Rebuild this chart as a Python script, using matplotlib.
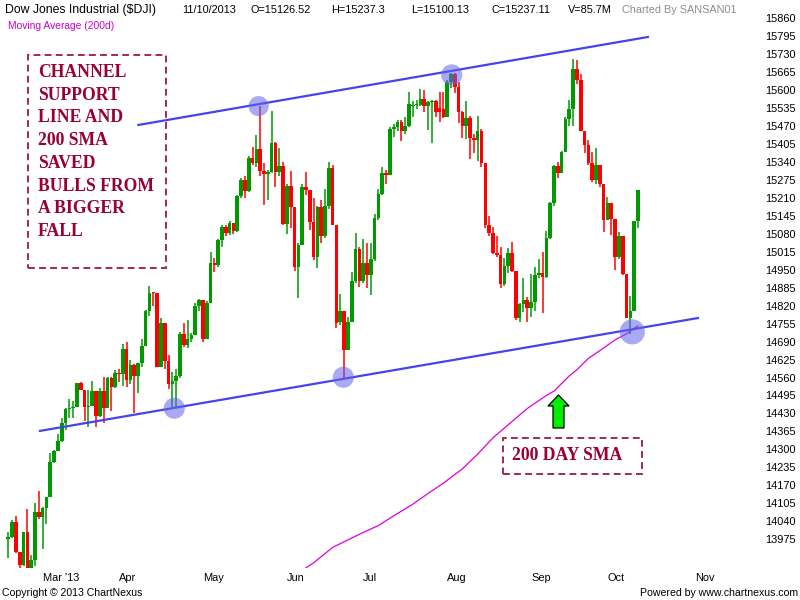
import matplotlib
matplotlib.use("Agg")
import matplotlib.pyplot as plt
from matplotlib.patches import Rectangle, Polygon
import numpy as np
import pandas as pd

# daily candles, Dow Jones Industrial, 15 Feb 2013 - 11 Oct 2013
holidays = ["2013-02-18", "2013-03-29", "2013-05-27", "2013-07-04", "2013-09-02"]
opens = [13975, 13982, 14036, 13928, 13881, 14001, 13784, 13900, 14075, 14054,
         14090, 14128, 14254, 14296, 14329, 14397, 14447, 14450, 14455, 14539,
         14514, 14452, 14456, 14512, 14421, 14512, 14448, 14560, 14526, 14578,
         14572, 14662, 14550, 14606, 14565, 14613, 14673, 14802, 14868, 14865,
         14599, 14756, 14618, 14537, 14547, 14567, 14719, 14676, 14700, 14712,
         14818, 14840, 14700, 14831, 14973, 14968, 15056, 15105, 15083, 15118,
         15091, 15215, 15275, 15233, 15354, 15335, 15387, 15307, 15294, 15303,
         15409, 15302, 15324, 15116, 15254, 15177, 14960, 15040, 15248, 15239,
         15122, 14995, 15176, 15070, 15180, 15318, 15112, 14762, 14800, 14660,
         14760, 14910, 15024, 14910, 14975, 14932, 14988, 15136, 15225, 15300,
         15291, 15460, 15464, 15484, 15452, 15470, 15540, 15544, 15545, 15567,
         15543, 15556, 15559, 15535, 15530, 15500, 15628, 15658, 15612, 15519,
         15471, 15498, 15425, 15419, 15451, 15337, 15112, 15081, 15010, 15002,
         14897, 14963, 15010, 14946, 14776, 14824, 14840, 14810, 14834, 14931,
         14938, 14922, 15063, 15191, 15326, 15300, 15376, 15494, 15529, 15677,
         15636, 15452, 15401, 15334, 15273, 15328, 15259, 15130, 15191, 15133,
         14996, 15072, 14936, 14776, 14802, 15126.52]
highs = [14003, 14045, 14059, 13929, 14001, 14083, 13918, 14105, 14150, 14091,
         14128, 14286, 14298, 14356, 14412, 14449, 14481, 14475, 14539, 14545,
         14514, 14515, 14549, 14512, 14521, 14563, 14561, 14561, 14587, 14590,
         14681, 14690, 14625, 14610, 14613, 14700, 14805, 14891, 14869, 14865,
         14775, 14756, 14640, 14580, 14590, 14725, 14756, 14768, 14720, 14830,
         14845, 14840, 14835, 15012, 14991, 15060, 15110, 15110, 15125, 15120,
         15220, 15280, 15290, 15360, 15392, 15437, 15542, 15334, 15310, 15523,
         15410, 15390, 15340, 15260, 15308, 15177, 15045, 15260, 15304, 15239,
         15210, 15180, 15200, 15240, 15340, 15330, 15112, 14862, 14800, 14780,
         14940, 15084, 15030, 15060, 15045, 15045, 15150, 15240, 15320, 15310,
         15465, 15475, 15490, 15490, 15500, 15593, 15560, 15565, 15604, 15600,
         15560, 15565, 15565, 15593, 15593, 15635, 15660, 15660, 15630, 15525,
         15560, 15505, 15440, 15505, 15460, 15337, 15144, 15103, 15070, 15030,
         14991, 15029, 15051, 14946, 14830, 14918, 14850, 14933, 14960, 14988,
         15015, 15090, 15195, 15330, 15340, 15380, 15500, 15563, 15711, 15709,
         15657, 15452, 15420, 15376, 15388, 15330, 15259, 15214, 15191, 15133,
         15087, 15072, 14936, 14856, 15126, 15237.3]
lows = [13906, 13979, 13924, 13860, 13880, 13784, 13784, 13879, 14048, 13939,
        14029, 14128, 14252, 14296, 14328, 14370, 14412, 14412, 14455, 14514,
        14404, 14382, 14456, 14382, 14418, 14394, 14448, 14440, 14521, 14545,
        14530, 14525, 14535, 14433, 14503, 14598, 14673, 14784, 14820, 14599,
        14599, 14590, 14520, 14455, 14455, 14560, 14670, 14665, 14690, 14712,
        14800, 14687, 14700, 14831, 14943, 14960, 15030, 15070, 15075, 15080,
        15085, 15210, 15210, 15230, 15330, 15320, 15290, 15184, 15202, 15300,
        15250, 15290, 15110, 15080, 15100, 14945, 14846, 15040, 15220, 15095,
        14985, 14955, 15045, 15065, 15170, 15110, 14740, 14750, 14557, 14660,
        14760, 14900, 14886, 14900, 14883, 14858, 14980, 15130, 15220, 15260,
        15291, 15430, 15450, 15416, 15440, 15465, 15500, 15530, 15540, 15520,
        15455, 15407, 15500, 15482, 15497, 15500, 15605, 15587, 15480, 15425,
        15422, 15349, 15370, 15343, 15322, 15099, 15070, 15005, 14995, 14882,
        14890, 14937, 14940, 14768, 14762, 14798, 14762, 14777, 14800, 14920,
        14792, 14920, 15060, 15180, 15282, 15300, 15376, 15470, 15470, 15620,
        15450, 15370, 15330, 15265, 15260, 15250, 15087, 15130, 15075, 14949,
        14990, 14930, 14775, 14719, 14802, 15100.13]
closes = [13982, 14036, 13928, 13881, 14001, 13784, 13900, 14075, 14054, 14090,
          14128, 14254, 14296, 14329, 14397, 14447, 14450, 14455, 14539, 14514,
          14452, 14456, 14512, 14421, 14512, 14448, 14560, 14526, 14578, 14572,
          14662, 14550, 14606, 14565, 14613, 14673, 14802, 14865, 14865, 14599,
          14756, 14618, 14537, 14547, 14567, 14719, 14676, 14700, 14712, 14818,
          14840, 14700, 14831, 14973, 14968, 15056, 15105, 15083, 15118, 15091,
          15215, 15275, 15233, 15354, 15335, 15387, 15307, 15294, 15303, 15409,
          15302, 15324, 15116, 15254, 15177, 14960, 15040, 15248, 15239, 15122,
          14995, 15176, 15070, 15180, 15318, 15112, 14758, 14800, 14660, 14760,
          14910, 15024, 14910, 14975, 14932, 14988, 15136, 15225, 15300, 15291,
          15460, 15464, 15484, 15452, 15470, 15549, 15544, 15545, 15567, 15543,
          15556, 15559, 15521, 15520, 15500, 15628, 15658, 15612, 15519, 15471,
          15498, 15425, 15419, 15451, 15337, 15112, 15081, 15010, 15002, 14897,
          14963, 15010, 14946, 14776, 14824, 14840, 14810, 14834, 14931, 14938,
          14922, 15063, 15191, 15326, 15300, 15376, 15494, 15529, 15677, 15636,
          15452, 15401, 15334, 15273, 15328, 15259, 15130, 15191, 15133, 14996,
          15072, 14936, 14776, 14802, 15126, 15237.11]

# 200 day moving average, read at some candle numbers
sma_pos = [76, 78, 80, 85, 89, 93, 97, 101, 106, 110, 114, 119, 123, 127, 132,
           136, 141, 143, 147, 149, 152, 155, 159, 162, 165]
sma_val = [13855, 13872, 13890, 13946, 13973, 14000, 14025, 14060, 14102, 14141,
           14178, 14230, 14283, 14342, 14401, 14448, 14495, 14511, 14566, 14588,
           14629, 14657, 14696, 14718, 14747]

# channel lines (candle number, price)
upper_x = [34.1, 167.6]
upper_y = [15473, 15791]
lower_x = [8.3, 180.7]
lower_y = [14367, 14775]

# touch points circled on the chart
touch_x = [43.5, 65.6, 87.8, 116.2, 163.5]
touch_y = [14449, 15541, 14561, 15654, 14725]
touch_size = [230, 210, 230, 230, 330]

note_lines = ["CHANNEL", "SUPPORT", "LINE AND", "200 SMA", "SAVED",
              "BULLS FROM", "A BIGGER", "FALL"]

days = pd.bdate_range("2013-02-15", "2013-11-29")
days = days[~days.isin(pd.to_datetime(holidays))]
n = len(closes)
x = np.arange(n)

W, H = 800, 600
fig = plt.figure(figsize=(8, 6), dpi=100)
plt.rcParams['font.family'] = ['Liberation Sans', 'DejaVu Sans']
ax = fig.add_axes([0, 32 / H, 760 / W, 568 / H])
ax.set_xlim(-2.175, 196.98)
ax.set_ylim(13871.4, 15924.7)
for s in ax.spines.values():
    s.set_visible(False)

o = np.array(opens); c = np.array(closes)
hi = np.array(highs); lo = np.array(lows)
up = c >= o
cols = np.where(up, '#009900', '#ff0000')
ax.vlines(x, lo, hi, colors=cols, linewidth=1.1, zorder=2)
body = np.maximum(np.abs(c - o), 4)
ax.bar(x, body, bottom=np.minimum(o, c), width=0.95, color=cols, linewidth=0, zorder=3)

ax.plot(sma_pos, sma_val, color='#dd00dd', lw=0.9, zorder=4)
ax.plot(upper_x, upper_y, color='#4444ee', lw=1.6, zorder=4)
ax.plot(lower_x, lower_y, color='#4444ee', lw=1.6, zorder=4)
ax.scatter(touch_x, touch_y, s=touch_size, color='#6464eb', alpha=0.55, linewidths=0, zorder=5)

# axes labels
yt = np.arange(13975, 15861, 65)
ax.yaxis.tick_right()
ax.set_yticks(yt)
ax.set_yticklabels([str(v) for v in yt], fontsize=7.9, ha='left')
months = pd.Series(days).groupby([days.year, days.month]).first()
mpos = [list(days).index(d) for d in months if d.month >= 3]
mlab = [("Mar '13" if d.month == 3 else d.strftime('%b')) for d in months if d.month >= 3]
ax.set_xticks(mpos)
ax.set_xticklabels(mlab, fontsize=7.9, ha='left')
ax.tick_params(axis='both', length=0, pad=3.5)
ax.tick_params(axis='y', pad=4)

def fx(px):
    return px / W

def fy(py):
    return 1 - py / H

# header
fig.text(fx(5), fy(10), "Dow Jones Industrial (\\$DJI)", fontsize=8.8, va='center')
hdr = [(182, "11/10/2013"), (251, "O=15126.52"), (331, "H=15237.3"),
       (411, "L=15100.13"), (491, "C=15237.11"), (568, "V=85.7M")]
for px, t in hdr:
    fig.text(fx(px), fy(10), t, fontsize=7.8, va='center')
fig.text(fx(622), fy(10), "Charted By SANSAN01", fontsize=7.8, va='center', color='#8c8c8c')
fig.text(fx(8), fy(26), "Moving Average (200d)", fontsize=7.4, va='center', color='#cc00cc')

# footer
fig.text(fx(2), fy(593), "Copyright \u00a9 2013 ChartNexus", fontsize=7.6, va='center')
fig.text(fx(798), fy(593), "Powered by www.chartnexus.com", fontsize=7.6, va='center', ha='right')

# notes
note_col = '#990033'
box_col = '#a0285a'
fig.patches.append(Rectangle((fx(27.5), fy(268)), (165.5 - 27.5) / W, (268 - 55) / H,
                             transform=fig.transFigure, fill=False, edgecolor=box_col,
                             lw=1.4, linestyle=(0, (3.5, 2.2))))
for i, t in enumerate(note_lines):
    fig.text(fx(38), fy(72.5 + i * 22.7), t, fontsize=12.7, fontweight='bold',
             family='Liberation Serif', color=note_col, va='center')

fig.patches.append(Rectangle((fx(503), fy(474)), (642 - 503) / W, (474 - 438) / H,
                             transform=fig.transFigure, fill=False, edgecolor=box_col,
                             lw=1.4, linestyle=(0, (3.5, 2.2))))
fig.text(fx(512), fy(455), "200 DAY SMA", fontsize=12.7, fontweight='bold',
         family='Liberation Serif', color=note_col, va='center')

arrow = [(558.5, 395), (569, 406), (564, 406), (564, 428), (553, 428), (553, 406), (548, 406)]
fig.patches.append(Polygon([(fx(a), fy(b)) for a, b in arrow], closed=True,
                           transform=fig.transFigure, facecolor='#00ee00',
                           edgecolor='black', lw=0.9))

fig.savefig("out.png", dpi=100, facecolor='white')
